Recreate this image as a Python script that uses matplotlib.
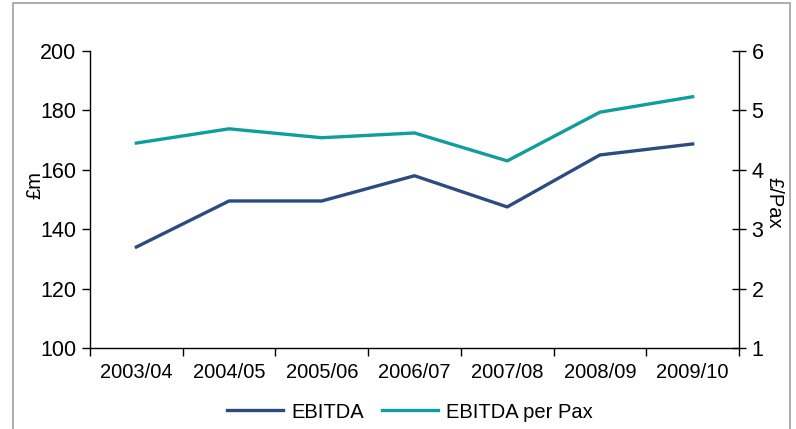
import matplotlib.pyplot as plt
import numpy as np
from matplotlib.patches import Rectangle

plt.rcParams['font.family'] = ['Liberation Sans', 'DejaVu Sans']

years = ['2003/04', '2004/05', '2005/06', '2006/07', '2007/08', '2008/09', '2009/10']
ebitda = [134, 149.5, 149.5, 158, 147.5, 165, 168.7]
ebitda_per_pax = [4.45, 4.69, 4.54, 4.62, 4.15, 4.97, 5.23]

blue = '#2c4b7e'
teal = '#0f9e9c'

fig = plt.figure(figsize=(7.96, 4.29), dpi=100)
fig.patches.append(Rectangle((13 / 796, -0.1), (790 - 13) / 796, 1.1 - 3 / 429,
                             transform=fig.transFigure, fill=False,
                             edgecolor='#a0a0a0', linewidth=1.2))

ax = fig.add_axes([90 / 796, 1 - 348 / 429, (739 - 90) / 796, (348 - 51) / 429])
ax2 = ax.twinx()

x = np.arange(len(years))
l1, = ax.plot(x, ebitda, color=blue, linewidth=2.4, label='EBITDA')
l2, = ax2.plot(x, ebitda_per_pax, color=teal, linewidth=2.4, label='EBITDA per Pax')

ax.set_xlim(-0.5, len(years) - 0.5)
ax.set_ylim(100, 200)
ax.set_yticks(np.arange(100, 201, 20))
ax2.set_ylim(1, 6)
ax2.set_yticks(np.arange(1, 7, 1))

# category boundaries carry the ticks, labels sit in the middle
ax.set_xticks(np.arange(-0.5, len(years), 1))
ax.set_xticklabels([])
ax.set_xticks(x, minor=True)
ax.set_xticklabels(years, minor=True, fontsize=14.5)
ax.tick_params(axis='x', which='minor', length=0, pad=11)
ax.tick_params(axis='x', which='major', direction='out', length=6, width=1)

ax.tick_params(axis='y', direction='out', length=6, width=1, labelsize=15.5, pad=4)
ax2.tick_params(axis='y', direction='inout', length=10, width=1, labelsize=15.5, pad=4)

for a in (ax, ax2):
    a.spines['top'].set_visible(False)
    a.patch.set_visible(False)
ax.spines['right'].set_visible(False)
ax2.spines['left'].set_visible(False)
ax2.spines['bottom'].set_visible(False)
for s in ('left', 'bottom'):
    ax.spines[s].set_linewidth(1)
ax2.spines['right'].set_linewidth(1)

fig.text(35 / 796, 1 - 185 / 429, '£m', rotation=90, fontsize=14.5,
         ha='center', va='center')
fig.text(774 / 796, 1 - 203 / 429, '£/Pax', rotation=-90, fontsize=14.5,
         ha='center', va='center')

fig.legend([l1, l2], ['EBITDA', 'EBITDA per Pax'], loc='center',
           bbox_to_anchor=(410 / 796, 1 - 412 / 429), ncol=2, frameon=False,
           fontsize=14.5, handlelength=2.8, handletextpad=0.4, columnspacing=0.9)

fig.savefig('out.png', dpi=100)
